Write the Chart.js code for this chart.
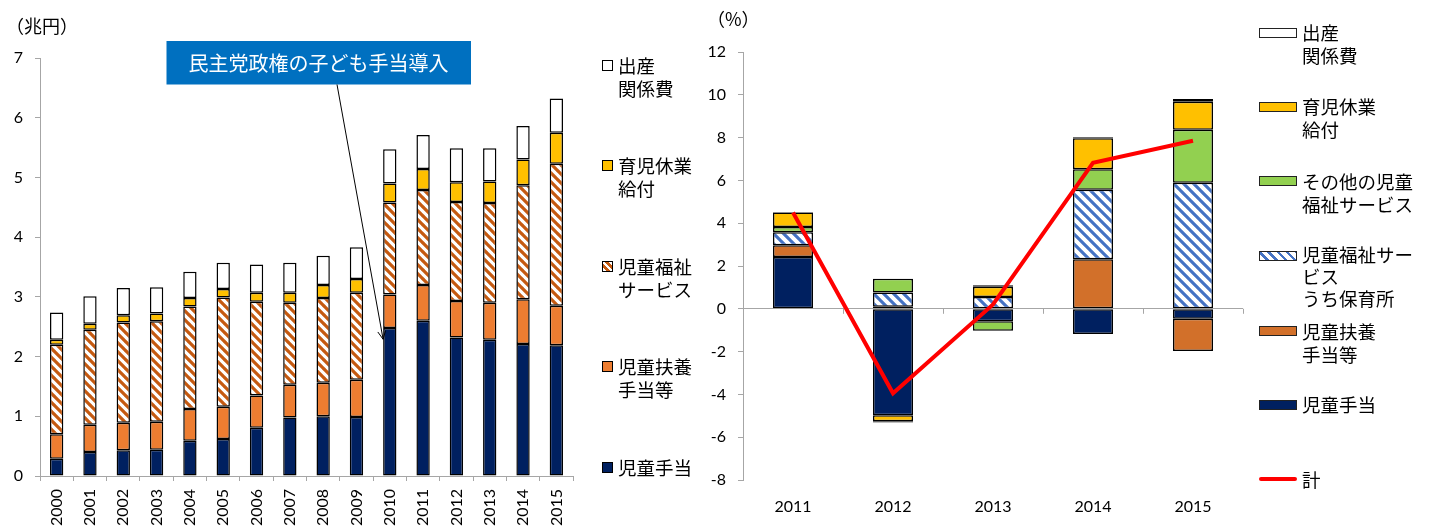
<!DOCTYPE html>
<html lang="ja">
<head>
<meta charset="utf-8">
<title>子ども・子育て関係給付費</title>
<script src="https://cdn.jsdelivr.net/npm/chart.js@4.4.1/dist/chart.umd.min.js"></script>
<style>
  body { margin: 0; background: #fff; font-family: Lato, 'Noto Sans CJK JP', sans-serif; color: #000; }
  #page { position: relative; width: 1429px; height: 530px; overflow: hidden; }
  .wrap { position: absolute; top: 0; height: 530px; }
  .unit { position: absolute; font-size: 18px; font-family: 'Noto Sans CJK JP', sans-serif; }
  .lg { position: absolute; font-size: 18.5px; line-height: 23px; white-space: nowrap; font-family: 'Noto Sans CJK JP', sans-serif; }
  .sq { position: absolute; width: 9px; height: 9px; border: 1px solid #000; }
  .sw { position: absolute; width: 36px; height: 8px; border: 1px solid #222; }
  .redline { position: absolute; width: 38px; height: 4px; background: #ff0000; border-radius: 2px; }
</style>
</head>
<body>
<div id="page">
  <div class="wrap" style="left:0;width:590px;"><canvas id="leftChart"></canvas></div>
  <div class="wrap" style="left:690px;width:570px;"><canvas id="rightChart"></canvas></div>

  <div class="unit" style="left:6px;top:12px;">（兆円）</div>
  <div class="unit" style="left:707px;top:5px;">（%）</div>

  <!-- 左の凡例 -->
  <div class="sq" style="left:602px;top:59.5px;background:#fff;"></div>
  <div class="lg" style="left:618px;top:53.5px;">出産<br>関係費</div>
  <div class="sq" style="left:602px;top:160px;background:#ffc000;"></div>
  <div class="lg" style="left:618px;top:154px;">育児休業<br>給付</div>
  <div class="sq" style="left:602px;top:260.5px;background:repeating-linear-gradient(45deg,#fff 0 2.5px,#c55a11 2.5px 5px);"></div>
  <div class="lg" style="left:618px;top:254.5px;">児童福祉<br>サービス</div>
  <div class="sq" style="left:602px;top:361px;background:#ed7d31;"></div>
  <div class="lg" style="left:618px;top:355px;">児童扶養<br>手当等</div>
  <div class="sq" style="left:602px;top:461.5px;background:#002060;"></div>
  <div class="lg" style="left:618px;top:455.5px;">児童手当</div>

  <!-- 右の凡例 -->
  <div class="sw" style="left:1259px;top:27.5px;background:#fff;"></div>
  <div class="lg" style="left:1302px;top:21px;">出産<br>関係費</div>
  <div class="sw" style="left:1259px;top:101.5px;background:#ffc000;"></div>
  <div class="lg" style="left:1302px;top:95px;">育児休業<br>給付</div>
  <div class="sw" style="left:1259px;top:176px;background:#92d050;"></div>
  <div class="lg" style="left:1302px;top:169.5px;">その他の児童<br>福祉サービス</div>
  <div class="sw" style="left:1259px;top:251px;background:repeating-linear-gradient(45deg,#fff 0 4px,#4472c4 4px 6.5px);"></div>
  <div class="lg" style="left:1302px;top:242.5px;line-height:22px;">児童福祉サー<br>ビス<br>うち保育所</div>
  <div class="sw" style="left:1259px;top:326px;background:#d2702a;"></div>
  <div class="lg" style="left:1302px;top:319.5px;">児童扶養<br>手当等</div>
  <div class="sw" style="left:1259px;top:399.5px;background:#002060;"></div>
  <div class="lg" style="left:1302px;top:393px;">児童手当</div>
  <div class="redline" style="left:1259px;top:477px;"></div>
  <div class="lg" style="left:1302px;top:467.5px;">計</div>
</div>

<script>
// ----- データ（左：給付費の推移、兆円）-----
const years = ['2000','2001','2002','2003','2004','2005','2006','2007',
               '2008','2009','2010','2011','2012','2013','2014','2015'];
const childAllowance = [0.29,0.40,0.43,0.44,0.59,0.62,0.81,0.98,1.00,0.99,2.48,2.60,2.32,2.28,2.21,2.19];
const childRearing   = [0.41,0.46,0.46,0.47,0.53,0.54,0.54,0.55,0.56,0.62,0.56,0.60,0.61,0.62,0.75,0.66];
const welfare        = [1.50,1.59,1.68,1.68,1.72,1.83,1.57,1.37,1.42,1.46,1.54,1.59,1.66,1.67,1.91,2.38];
const parentalLeave  = [0.08,0.10,0.12,0.13,0.14,0.14,0.15,0.17,0.22,0.23,0.32,0.35,0.33,0.36,0.43,0.52];
const maternity      = [0.46,0.46,0.46,0.44,0.44,0.44,0.47,0.50,0.49,0.53,0.57,0.57,0.57,0.56,0.56,0.57];

// ----- データ（右：前年比寄与度、%）-----
const growthYears       = ['2011','2012','2013','2014','2015'];
const gChildAllowance   = [2.42,-4.97,-0.58,-1.18,-0.47];
const gChildRearing     = [0.55, 0.10, 0.00, 2.32,-1.50];
const gNursery          = [0.61, 0.66, 0.55, 3.24, 5.89];
const gOtherWelfare     = [0.24, 0.64,-0.45, 0.96, 2.48];
const gParentalLeave    = [0.68,-0.29, 0.48, 1.45, 1.31];
const gMaternity        = [0.02,-0.05, 0.07, 0.05, 0.12];
const gTotal            = [4.50,-3.95, 0.20, 6.82, 7.85];

Chart.defaults.font.family = "Lato, 'Noto Sans CJK JP', sans-serif";
Chart.defaults.font.size = 16;
Chart.defaults.color = '#000';

const axisGray = '#a6a6a6';

// 斜線パターン
function makeHatch(color, size, lw) {
    const c = document.createElement('canvas');
    c.width = size; c.height = size;
    const g = c.getContext('2d');
    g.fillStyle = '#fff';
    g.fillRect(0, 0, size, size);
    g.strokeStyle = color;
    g.lineWidth = lw;
    g.beginPath();
    [-size, 0, size].forEach(k => {
        g.moveTo(k - 1, -1);
        g.lineTo(k + size + 1, size + 1);
    });
    g.stroke();
    return g.createPattern(c, 'repeat');
}

function barSet(label, data, color) {
    return {
        type: 'bar',
        label: label,
        data: data,
        backgroundColor: color,
        borderColor: '#000',
        borderWidth: 1.5,
        borderSkipped: false,
        order: 1
    };
}

// 民主党政権の注記と矢印
const notePlugin = {
    id: 'dpjNote',
    afterDraw(chart) {
        const ctx = chart.ctx;
        const ys = chart.scales.y;
        const bar = chart.getDatasetMeta(0).data[10];
        const tipX = bar.x - bar.width / 2;
        const tipY = ys.getPixelForValue(2.29);
        const sx = 337, sy = 84.5;

        ctx.save();
        ctx.fillStyle = '#0070c0';
        ctx.fillRect(166.5, 41, 304.5, 43.5);
        ctx.fillStyle = '#fff';
        ctx.font = "20px 'Noto Sans CJK JP', sans-serif";
        ctx.textAlign = 'center';
        ctx.textBaseline = 'middle';
        ctx.fillText('民主党政権の子ども手当導入', 318.5, 63);

        ctx.strokeStyle = '#000';
        ctx.lineWidth = 1;
        ctx.beginPath();
        ctx.moveTo(sx, sy);
        ctx.lineTo(tipX, tipY);
        const ang = Math.atan2(tipY - sy, tipX - sx);
        [0.45, -0.45].forEach(d => {
            ctx.moveTo(tipX, tipY);
            ctx.lineTo(tipX - 9 * Math.cos(ang + d), tipY - 9 * Math.sin(ang + d));
        });
        ctx.stroke();
        ctx.restore();
    }
};

// 右グラフ：ゼロ線上の目盛り
const zeroTicksPlugin = {
    id: 'zeroTicks',
    beforeDatasetsDraw(chart) {
        const ctx = chart.ctx;
        const xs = chart.scales.x, ys = chart.scales.y;
        const y0 = ys.getPixelForValue(0);
        const n = xs.ticks.length;
        const step = (xs.right - xs.left) / n;
        ctx.save();
        ctx.strokeStyle = axisGray;
        ctx.lineWidth = 1;
        ctx.beginPath();
        for (let i = 1; i <= n; i++) {
            const x = Math.round(xs.left + i * step) + 0.5;
            ctx.moveTo(x, y0);
            ctx.lineTo(x, y0 + 5);
        }
        ctx.stroke();
        ctx.restore();
    }
};

// ----- 左グラフ -----
new Chart(document.getElementById('leftChart').getContext('2d'), {
    type: 'bar',
    data: {
        labels: years,
        datasets: [
            barSet('児童手当', childAllowance, '#002060'),
            barSet('児童扶養手当等', childRearing, '#ed7d31'),
            barSet('児童福祉サービス', welfare, makeHatch('#c55a11', 9, 3.2)),
            barSet('育児休業給付', parentalLeave, '#ffc000'),
            barSet('出産関係費', maternity, '#ffffff')
        ]
    },
    options: {
        responsive: true,
        maintainAspectRatio: false,
        animation: false,
        layout: { padding: { top: 58, right: 17, left: 0, bottom: 0 } },
        datasets: { bar: { categoryPercentage: 1, barPercentage: 0.4 } },
        plugins: { legend: { display: false }, tooltip: { enabled: false } },
        scales: {
            x: {
                stacked: true,
                border: { color: axisGray },
                grid: { drawOnChartArea: false, tickColor: axisGray, tickLength: 5, offset: true },
                ticks: { minRotation: 90, maxRotation: 90, autoSkip: false, padding: 8 },
                afterFit: s => { s.height = 54; }
            },
            y: {
                stacked: true,
                min: 0,
                max: 7,
                border: { color: axisGray },
                grid: { drawOnChartArea: false, tickColor: axisGray, tickLength: 5 },
                ticks: { stepSize: 1, padding: 12 },
                afterFit: s => { s.width = 40; }
            }
        }
    },
    plugins: [notePlugin]
});

// ----- 右グラフ -----
new Chart(document.getElementById('rightChart').getContext('2d'), {
    type: 'bar',
    data: {
        labels: growthYears,
        datasets: [
            barSet('児童手当', gChildAllowance, '#002060'),
            barSet('児童扶養手当等', gChildRearing, '#d2702a'),
            barSet('児童福祉サービスうち保育所', gNursery, makeHatch('#4472c4', 10, 3.1)),
            barSet('その他の児童福祉サービス', gOtherWelfare, '#92d050'),
            barSet('育児休業給付', gParentalLeave, '#ffc000'),
            barSet('出産関係費', gMaternity, '#ffffff'),
            {
                type: 'line',
                label: '計',
                data: gTotal,
                stack: 'total',
                borderColor: '#ff0000',
                borderWidth: 4,
                pointRadius: 0,
                tension: 0,
                fill: false,
                order: 0
            }
        ]
    },
    options: {
        responsive: true,
        maintainAspectRatio: false,
        animation: false,
        layout: { padding: { top: 52, right: 17, left: 0, bottom: 0 } },
        datasets: { bar: { categoryPercentage: 1, barPercentage: 0.4 } },
        plugins: { legend: { display: false }, tooltip: { enabled: false } },
        scales: {
            x: {
                stacked: true,
                border: { display: false },
                grid: { display: false, drawTicks: false },
                ticks: { padding: 17 },
                afterFit: s => { s.height = 50; }
            },
            y: {
                stacked: true,
                min: -8,
                max: 12,
                border: { color: axisGray },
                grid: {
                    color: c => (c.tick && c.tick.value === 0) ? axisGray : 'rgba(0,0,0,0)',
                    tickColor: axisGray,
                    tickLength: 5
                },
                ticks: { stepSize: 2, padding: 12 },
                afterFit: s => { s.width = 53; }
            }
        }
    },
    plugins: [zeroTicksPlugin]
});
</script>
</body>
</html>
